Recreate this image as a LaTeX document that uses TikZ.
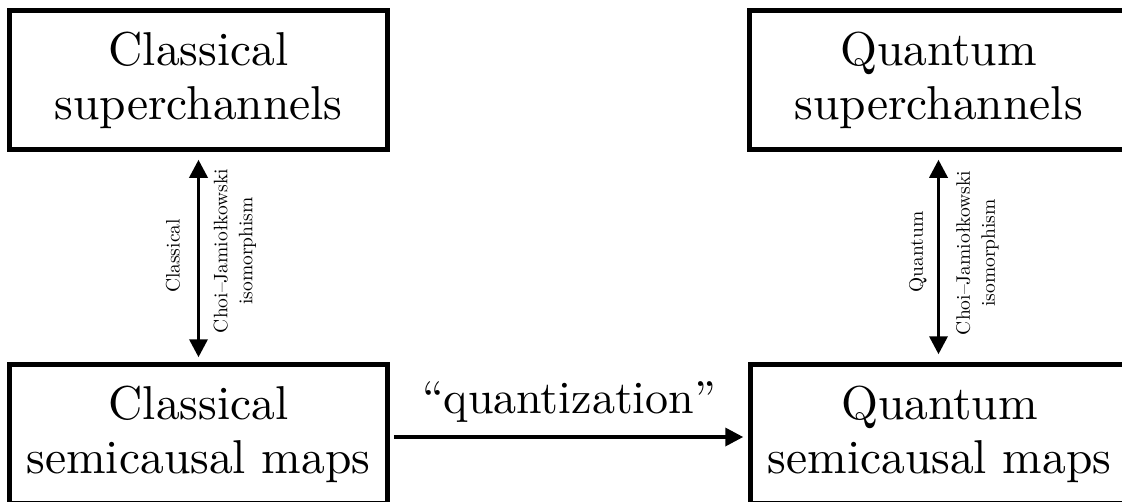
\documentclass[tikz,border=0pt]{standalone}
\usepackage{fontspec}
\setmainfont{lmroman10-regular.otf}
\usetikzlibrary{arrows.meta}
\begin{document}
\begin{tikzpicture}[x=1pt,y=-1pt,
  box/.style={draw, line width=4.5pt, minimum width=378pt, minimum height=139pt,
    align=center, inner sep=0pt, font=\fontsize{47.5}{54}\selectfont},
  arr/.style={line width=3.5pt, -{Triangle[length=18pt,width=18pt]}},
  darr/.style={line width=3.5pt, {Triangle[length=18pt,width=18pt]}-{Triangle[length=18pt,width=18pt]}},
  lab/.style={rotate=90, font=\fontsize{19.5}{25}\selectfont, align=center, inner sep=0pt}]
\useasboundingbox (0,0) rectangle (1122,501);
\clip (0,0) rectangle (1122,501);
\node[box] (TL) at (198.5,80) {Classical\\superchannels};
\node[box] (TR) at (938.5,80) {Quantum\\superchannels};
\node[box] (BL) at (198.5,434) {Classical\\semicausal maps};
\node[box] (BR) at (939.5,434) {Quantum\\semicausal maps};
\draw[darr, shorten <=8pt, shorten >=5pt] (TL.south) -- (TL.south |- BL.north);
\draw[darr, shorten <=8pt, shorten >=8pt] (TR.south) -- (TR.south |- BR.north);
\draw[arr, shorten <=4pt, shorten >=5pt] ([yshift=-3pt]BL.east) -- ([yshift=-3pt]BR.west)
  node[midway, above=13pt, inner sep=0pt, font=\fontsize{46}{54}\selectfont] (qz) {``quantization''};
\node[lab] (lcl) at (173,256) {Classical};
\node[lab] (lcj) at (235,251) {Choi--Jamiołkowski\\isomorphism};
\node[lab] (rq) at (918,252) {Quantum};
\node[lab] (rcj) at (977.5,253) {Choi--Jamiołkowski\\isomorphism};
\end{tikzpicture}
\end{document}
